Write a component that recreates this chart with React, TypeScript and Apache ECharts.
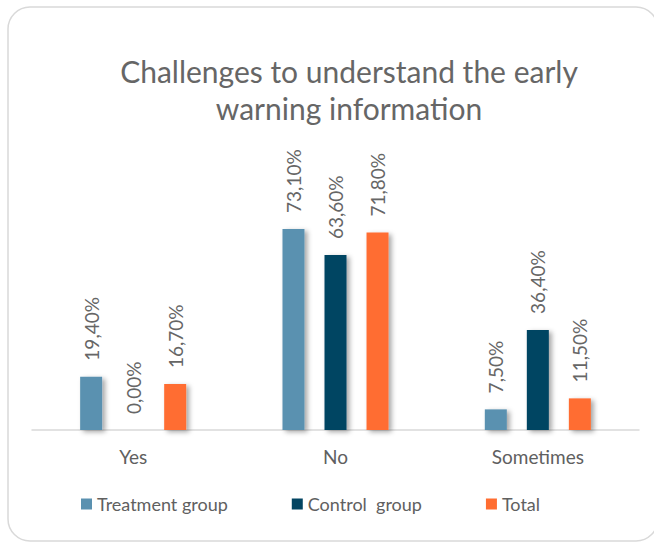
import React, { useEffect, useRef } from "react";
import * as echarts from "echarts";

const categories = ["Yes", "No", "Sometimes"];
const seriesNames = ["Treatment group", "Control  group", "Total"];
const treatment = [19.4, 73.1, 7.5];
const control = [0.0, 63.6, 36.4];
const total = [16.7, 71.8, 11.5];
const colors = ["#5A91B0", "#034562", "#FF6D31"];

const FONT = "Lato, 'Open Sans', sans-serif";
const GRAY = "#606060";

export default function App() {
  const ref = useRef<HTMLDivElement>(null);
  useEffect(() => {
    if (!ref.current) return;
    const chart = echarts.init(ref.current, undefined, { renderer: "svg" });
    const values = [treatment, control, total];
    chart.setOption({
      animation: false,
      backgroundColor: "#ffffff",
      textStyle: { fontFamily: FONT },
      graphic: [
        {
          type: "rect",
          shape: { x: 8, y: 7, width: 650, height: 534, r: 22 },
          style: { fill: "none", stroke: "#d9d9d9", lineWidth: 1.5 },
          silent: true,
        },
      ],
      title: {
        text: "Challenges to understand the early\nwarning information",
        left: 344,
        top: 47,
        textAlign: "center",
        textStyle: {
          fontFamily: FONT,
          fontSize: 30,
          fontWeight: "normal",
          color: "#666666",
          lineHeight: 37,
        },
      },
      legend: {
        left: 76,
        top: 490,
        itemWidth: 11,
        itemHeight: 11,
        itemGap: 64,
        icon: "rect",
        textStyle: { fontFamily: FONT, fontSize: 18, color: GRAY },
        data: seriesNames,
      },
      grid: { left: 32, right: 15, top: 210, bottom: 113 },
      xAxis: {
        type: "category",
        data: categories,
        axisLine: { lineStyle: { color: "#d9d9d9", width: 1.5 } },
        axisTick: { show: false },
        axisLabel: { fontFamily: FONT, fontSize: 19, color: GRAY, margin: 17 },
      },
      yAxis: {
        type: "value",
        min: 0,
        max: 80,
        show: false,
        splitLine: { show: false },
      },
      series: seriesNames.map((name, i) => ({
        name,
        type: "bar",
        data: values[i],
        barWidth: 22,
        barGap: "91%",
        itemStyle: {
          color: colors[i],
          shadowColor: "rgba(0,0,0,0.35)",
          shadowBlur: 5,
          shadowOffsetX: 3,
          shadowOffsetY: 2,
        },
        label: {
          show: true,
          position: "top",
          rotate: 90,
          align: "left",
          verticalAlign: "middle",
          distance: 16,
          fontFamily: FONT,
          fontSize: 19,
          color: "#666666",
          formatter: (p: any) => p.value.toFixed(2).replace(".", ",") + "%",
        },
      })),
    });
    return () => chart.dispose();
  }, []);
  return (
    <div
      ref={ref}
      style={{ position: "fixed", left: 0, top: 0, width: 654, height: 543 }}
    />
  );
}
